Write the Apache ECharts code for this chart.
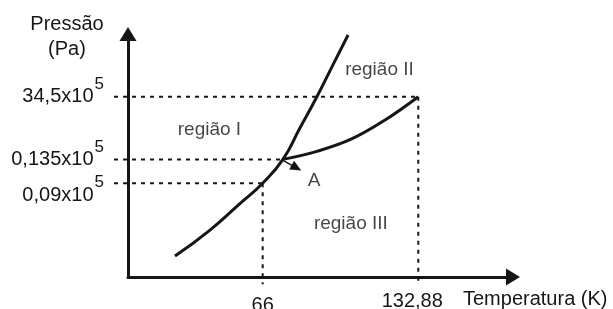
<!DOCTYPE html>
<html>
<head>
<meta charset="utf-8">
<script src="https://cdn.jsdelivr.net/npm/echarts@6/dist/echarts.min.js"></script>
<style>
  html, body { margin: 0; padding: 0; background: #fff; }
  #chart { width: 613px; height: 309px; }
</style>
</head>
<body>
<div id="chart"></div>
<script>
// Phase diagram (schematic). x = temperature in K, y = schematic pressure level.
const tempTicks = [66, 132.88];
const tempLabels = ["66", "132,88"];
const pressureLevels = [38.6, 48.4, 74.2];
const pressureLabels = ["0,09x10", "0,135x10", "34,5x10"];
// temperature where each pressure guide meets its curve
const guideTemps = [66, 74.7, 132.88];

const meltSublimation = [
  [28.3, 8.6], [43.35, 19.3], [56.2, 30.2], [66, 38.6], [74.7, 48.4],
  [82.0, 61.3], [89.3, 74.2], [96.2, 87.3], [102.7, 99.6],
];
const vaporization = [
  [74.7, 48.4], [89.3, 51.7], [104.0, 56.7], [118.6, 64.6], [132.88, 74.2],
];
const arrowA = [[74.9, 47.9], [80.5, 44.9]];

const labelNames = ["região I", "região II", "região III", "A"];
const labelPoints = [[43.1, 60.7], [116.2, 85.2], [103.9, 22.1], [88.05, 39.7]];

const font = "Liberation Sans, Arial, sans-serif";
const ink = "#161616";
const guideStart = 2.1;
const guideBottom = -3;

const chart = echarts.init(document.getElementById("chart"));

// guides live in a second, wider grid sharing the same scale (so they can
// run past the axes like in the original drawing)
const dotted = { color: ink, width: 2, type: [4, 5] };
const guideSeries = [];
pressureLevels.forEach((lv, i) => {
  guideSeries.push({
    type: "line", xAxisIndex: 1, yAxisIndex: 1, symbol: "none", silent: true,
    lineStyle: dotted,
    data: [[guideStart, lv], [guideTemps[i], lv]],
  });
});
[[tempTicks[0], pressureLevels[0]], [tempTicks[1], pressureLevels[2]]].forEach((p) => {
  guideSeries.push({
    type: "line", xAxisIndex: 1, yAxisIndex: 1, symbol: "none", silent: true,
    lineStyle: dotted,
    data: [[p[0], p[1]], [p[0], guideBottom]],
  });
});

function idxOf(arr, v) {
  return arr.findIndex((a) => Math.abs(a - v) < 0.01);
}

const option = {
  animation: false,
  grid: [
    { left: 128, right: 100, top: 34, bottom: 32, outerBoundsMode: "none" },
    { left: 114, right: 100, top: 34, bottom: 22, outerBoundsMode: "none" },
  ],
  xAxis: [
    {
      type: "value",
      min: 8.1,
      max: 173.6,
      splitLine: { show: false },
      axisTick: { show: false },
      axisLine: {
        lineStyle: { color: ink, width: 3 },
        symbol: ["none", "triangle"],
        symbolSize: [17, 14],
      },
      axisLabel: {
        customValues: tempTicks,
        margin: 14,
        color: ink,
        fontFamily: font,
        fontSize: 20,
        formatter: (v) => {
          const i = idxOf(tempTicks, v);
          return i === 0 ? `{a|${tempLabels[0]}}` : `{b|${tempLabels[1]}}`;
        },
        rich: {
          a: { fontSize: 20, fontFamily: font, color: ink, padding: [4, 0, 0, 0] },
          b: { fontSize: 20, fontFamily: font, color: ink, padding: [0, 12, 0, 0] },
        },
      },
      name: "Temperatura (K)",
      nameLocation: "end",
      nameGap: -50,
      nameTextStyle: {
        color: ink, fontFamily: font, fontSize: 20,
        verticalAlign: "top", padding: [12, 0, 0, 0],
      },
    },
    {
      gridIndex: 1, type: "value", min: 2.09, max: 173.6, show: false,
    },
  ],
  yAxis: [
    {
      type: "value",
      min: 0,
      max: 100,
      splitLine: { show: false },
      axisTick: { show: false },
      axisLine: {
        lineStyle: { color: ink, width: 3 },
        symbol: ["none", "triangle"],
        symbolSize: [17, 14],
      },
      axisLabel: {
        customValues: pressureLevels,
        margin: 24,
        color: ink,
        fontFamily: font,
        fontSize: 20,
        formatter: (v) => {
          const i = idxOf(pressureLevels, v);
          if (i === 0) return `{low|${pressureLabels[0]}}{lowSup|5}`;
          return `{m|${pressureLabels[i]}}{sup|5}`;
        },
        rich: {
          m: { fontSize: 20, fontFamily: font, color: ink },
          sup: { fontSize: 17, fontFamily: font, color: ink, padding: [0, 0, 25, 1] },
          low: { fontSize: 20, fontFamily: font, color: ink, padding: [24, 0, 0, 0] },
          lowSup: { fontSize: 17, fontFamily: font, color: ink, padding: [0, 0, 1, 1] },
        },
      },
      name: "Pressão\n(Pa)",
      nameLocation: "end",
      nameGap: -28,
      nameTextStyle: {
        color: ink, fontFamily: font, fontSize: 20, lineHeight: 25,
        align: "center", padding: [0, 122, 0, 0],
      },
    },
    {
      gridIndex: 1, type: "value", min: -4.115, max: 100, show: false,
    },
  ],
  series: [
    ...guideSeries,
    {
      type: "line", smooth: 0.5, symbol: "none", silent: true,
      lineStyle: { color: ink, width: 3 },
      data: meltSublimation,
    },
    {
      type: "line", smooth: 0.4, symbol: "none", silent: true,
      lineStyle: { color: ink, width: 3 },
      data: vaporization,
      markLine: {
        silent: true,
        symbol: ["none", "triangle"],
        symbolSize: [10, 11],
        label: { show: false },
        lineStyle: { type: "solid", width: 1.5, color: ink },
        data: [[{ coord: arrowA[0] }, { coord: arrowA[1] }]],
      },
    },
    {
      type: "scatter", symbolSize: 0, silent: true,
      label: {
        show: true, position: "inside", color: ink, fontFamily: font, fontSize: 19,
        formatter: (p) => p.name,
      },
      data: labelNames.map((n, i) => ({ name: n, value: labelPoints[i] })),
    },
  ],
};

chart.setOption(option);
window.addEventListener("resize", () => chart.resize());
</script>
</body>
</html>
